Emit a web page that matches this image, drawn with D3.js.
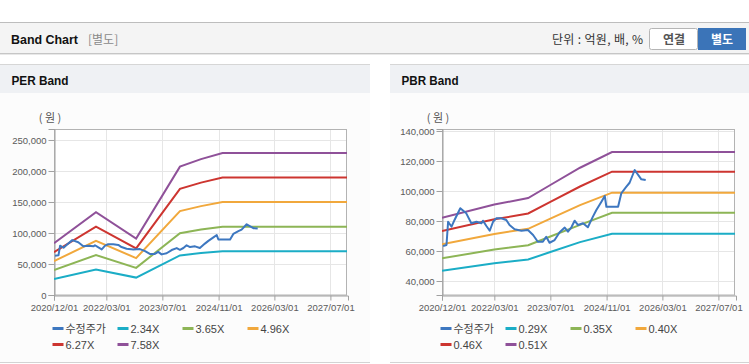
<!DOCTYPE html>
<html><head><meta charset="utf-8">
<script src="https://cdn.jsdelivr.net/npm/d3@7"></script>
<style>
body{margin:0;background:#fff;}
svg{display:block;font-family:"Liberation Sans",Arial,sans-serif;}
</style>
</head><body><svg id="c" width="749" height="364"></svg>
<script>
// ---------------- DATA ----------------
const tickDates  = ["2020-12-01","2022-03-01","2023-07-01","2024-11-01","2026-03-01","2027-07-01"];
const tickLabels = ["2020/12/01","2022/03/01","2023/07/01","2024/11/01","2026/03/01","2027/07/01"];

const priceDates = ["2020-12-10","2021-01-09","2021-01-23","2021-02-22","2021-03-20","2021-05-09","2021-06-30",
  "2021-08-13","2021-09-26","2021-11-09","2021-11-22","2021-12-22","2022-01-20","2022-02-18","2022-03-17",
  "2022-04-30","2022-06-13","2022-07-11","2022-08-24","2022-10-22","2022-12-18","2023-02-01","2023-03-14",
  "2023-04-27","2023-05-26","2023-06-24","2023-08-07","2023-09-20","2023-11-03","2023-12-01","2023-12-31",
  "2024-01-28","2024-02-27","2024-04-10","2024-05-22","2024-07-05","2024-08-04","2024-09-17","2024-10-16",
  "2024-10-30","2025-02-09","2025-03-09","2025-04-22","2025-05-20","2025-07-03","2025-08-30","2025-10-07"];
const price = [63300,64000,79500,76200,80700,88500,85100,
  78500,79500,78500,80200,76700,73500,79500,81800,
  81800,80700,77300,74500,73500,74000,70700,66200,
  66200,69500,65500,67300,72500,75600,72900,75800,
  80200,77300,78500,75800,82900,87300,92900,96700,
  89500,89500,98500,102900,105500,114000,107800,107300];

const perDates = ["2020-12-01","2021-12-01","2022-11-15","2023-12-01","2024-06-01","2024-12-05","2027-12-01"];
const per234 = [25740, 41180, 28080, 63880, 67630, 70670, 70670];
const per365 = [40150, 64240, 43800, 99650,105490,110230,110230];
const per496 = [54560, 87300, 59520,135410,143340,149790,149790];
const per627 = [68970,110350, 75240,171170,181200,189350,189350];
const per758 = [83380,133410, 90960,206930,219060,228920,228920];
const perTicks = [0,50000,100000,150000,200000,250000];

const pbrDates = ["2020-12-01","2022-03-01","2022-12-20","2023-07-01","2024-03-15","2024-12-18","2027-12-01"];
const pbr029 = [46900,51900,54300, 59300, 65900, 71500, 71500];
const pbr035 = [55100,61000,63900, 69700, 77400, 85500, 85500];
const pbr040 = [64500,71400,74800, 81600, 90600, 98900, 98900];
const pbr046 = [73300,81100,85000, 92700,103000,112900,112900];
const pbr051 = [82200,91000,95300,104000,115500,126000,126000];
const pbrTicks = [40000,60000,80000,100000,120000,140000];

const perNames = ["수정주가","2.34X","3.65X","4.96X","6.27X","7.58X"];
const pbrNames = ["수정주가","0.29X","0.35X","0.40X","0.46X","0.51X"];
const colors = ["#3d77c0","#1badc6","#8db556","#f1a83c","#cd3530","#8f5199"];

// ---------------- DRAW ----------------
const svg = d3.select("#c");
const parse = d3.timeParse("%Y-%m-%d");
const fontK = "'Noto Sans CJK KR','Liberation Sans',sans-serif";

// page header
svg.append("rect").attr("x",0).attr("y",22).attr("width",749).attr("height",31).attr("fill","#f4f4f4");
svg.append("line").attr("x1",0).attr("x2",749).attr("y1",22.5).attr("y2",22.5).attr("stroke","#bdbdbd");
svg.append("line").attr("x1",0).attr("x2",749).attr("y1",53.5).attr("y2",53.5).attr("stroke","#c6c6c6");
svg.append("line").attr("x1",0).attr("x2",749).attr("y1",54.5).attr("y2",54.5).attr("stroke","#e8e8e8");
svg.append("text").attr("x",11).attr("y",44).attr("font-size",13).attr("font-weight","bold")
  .attr("fill","#111").attr("textLength",67).attr("lengthAdjust","spacingAndGlyphs").text("Band Chart");
svg.append("text").attr("x",88).attr("y",44).attr("font-size",12).attr("fill","#8a8a8a")
  .style("font-family",fontK).text("[별도]");
svg.append("text").attr("x",552).attr("y",44).attr("font-size",12).attr("fill","#333")
  .style("font-family",fontK).attr("textLength",91).attr("lengthAdjust","spacing").text("단위 : 억원, 배, %");
svg.append("rect").attr("x",649.5).attr("y",28.5).attr("width",48).attr("height",21).attr("rx",2)
  .attr("fill","#fff").attr("stroke","#b5b5b5");
svg.append("rect").attr("x",698).attr("y",28).attr("width",48).attr("height",22).attr("fill","#3b74b8");
svg.append("text").attr("x",674).attr("y",43.5).attr("text-anchor","middle").attr("font-size",12)
  .attr("font-weight","bold").attr("fill","#555").style("font-family",fontK).text("연결");
svg.append("text").attr("x",722).attr("y",43.5).attr("text-anchor","middle").attr("font-size",12)
  .attr("font-weight","bold").attr("fill","#fff").style("font-family",fontK).text("별도");

function panel(o){
  const g = svg.append("g");
  g.append("rect").attr("x",o.px).attr("y",64).attr("width",o.pw).attr("height",298).attr("fill","#fcfcfc");
  g.append("rect").attr("x",o.px).attr("y",64).attr("width",o.pw).attr("height",29).attr("fill","#eff1f4");
  g.append("line").attr("x1",o.px).attr("x2",o.px+o.pw).attr("y1",64.5).attr("y2",64.5).attr("stroke","#d6d6d6");
  g.append("line").attr("x1",o.px).attr("x2",o.px+o.pw).attr("y1",362.5).attr("y2",362.5).attr("stroke","#d3d3d3");
  g.append("text").attr("x",o.px+11.5).attr("y",85).attr("font-size",13).attr("font-weight","bold")
    .attr("fill","#111").attr("textLength",57).attr("lengthAdjust","spacingAndGlyphs").text(o.title);

  const x = d3.scaleTime().domain([parse("2020-12-01"),parse("2027-12-01")]).range([o.l, o.l+294]);
  const y = d3.scaleLinear().domain(o.ydom).range([295,129]);
  const r = o.l+293;

  g.append("rect").attr("x",o.l).attr("y",129).attr("width",r-o.l).attr("height",166).attr("fill","#fff");
  // grid
  g.selectAll(".gy").data(o.ticks).join("line")
    .attr("x1",o.l).attr("x2",r).attr("y1",d=>Math.round(y(d))+0.5).attr("y2",d=>Math.round(y(d))+0.5)
    .attr("stroke","#e6e6e6");
  g.selectAll(".gx").data(tickDates).join("line")
    .attr("x1",d=>Math.round(x(parse(d)))+0.5).attr("x2",d=>Math.round(x(parse(d)))+0.5)
    .attr("y1",129).attr("y2",295).attr("stroke","#e6e6e6");
  // frame
  g.append("rect").attr("x",o.l+0.5).attr("y",129.5).attr("width",r-o.l-1).attr("height",165.5)
    .attr("fill","none").attr("stroke","#b3b3b3");

  // axes
  const ya = d3.axisLeft(y).tickValues(o.ticks).tickSize(6).tickPadding(2).tickFormat(d3.format(","));
  const yg = g.append("g").attr("transform",`translate(${o.l+0.5},0)`).call(ya);
  yg.select(".domain").attr("stroke","#a0a0a0");
  yg.selectAll(".tick line").attr("stroke","#a0a0a0");
  yg.selectAll("text").attr("font-size",9.5).attr("fill","#5a5a5a").attr("font-family","'Liberation Sans',Arial");
  const xa = d3.axisBottom(x).tickValues(tickDates.map(parse)).tickSize(5).tickPadding(4)
    .tickFormat((d,i)=>tickLabels[i]);
  const xg = g.append("g").attr("transform","translate(0,295.5)").call(xa);
  xg.select(".domain").attr("stroke","#a0a0a0");
  xg.selectAll(".tick line").attr("stroke","#a0a0a0");
  xg.selectAll("text").attr("font-size",9.5).attr("fill","#5a5a5a").attr("font-family","'Liberation Sans',Arial");

  g.append("text").attr("x",o.l-4).attr("y",122).attr("text-anchor","middle").attr("font-size",11)
    .attr("fill","#555").style("font-family",fontK).text("( 원 )");

  // clip
  const cid = "clip"+o.px;
  svg.append("clipPath").attr("id",cid).append("rect").attr("x",o.l).attr("y",129).attr("width",r-o.l).attr("height",166);
  const line = d3.line().x(d=>x(d.date)).y(d=>y(d.v));
  const lg = g.append("g").attr("clip-path",`url(#${cid})`);
  o.bands.forEach((arr,i)=>{
    const data = arr.map((v,j)=>({date:parse(o.bandDates[j]),v}));
    lg.append("path").datum(data).attr("d",line).attr("fill","none")
      .attr("stroke",colors[i+1]).attr("stroke-width",2);
  });
  const pdata = price.map((v,j)=>({date:parse(priceDates[j]),v}));
  lg.append("path").datum(pdata).attr("d",line).attr("fill","none")
    .attr("stroke",colors[0]).attr("stroke-width",2).attr("stroke-linejoin","round");

  // legend
  o.names.forEach((n,i)=>{
    const col = i<4 ? i : i-4, row = i<4 ? 0 : 1;
    const lx = o.l - 1.5 + col*65, ly = 328 + row*16;
    g.append("line").attr("x1",lx).attr("x2",lx+11).attr("y1",ly+0.5).attr("y2",ly+0.5)
      .attr("stroke",colors[i]).attr("stroke-width",3);
    g.append("text").attr("x",lx+13).attr("y",ly+4.5).attr("font-size",11).attr("fill","#444")
      .style("font-family",i===0?fontK:"'Liberation Sans',Arial").text(n);
  });
}

panel({px:0,pw:370,title:"PER Band",l:54,ydom:[0,267700],ticks:perTicks,
  bandDates:perDates,bands:[per234,per365,per496,per627,per758],names:perNames});
panel({px:390,pw:359,title:"PBR Band",l:442,ydom:[30667,141333],ticks:pbrTicks,
  bandDates:pbrDates,bands:[pbr029,pbr035,pbr040,pbr046,pbr051],names:pbrNames});
</script>
</body></html>
